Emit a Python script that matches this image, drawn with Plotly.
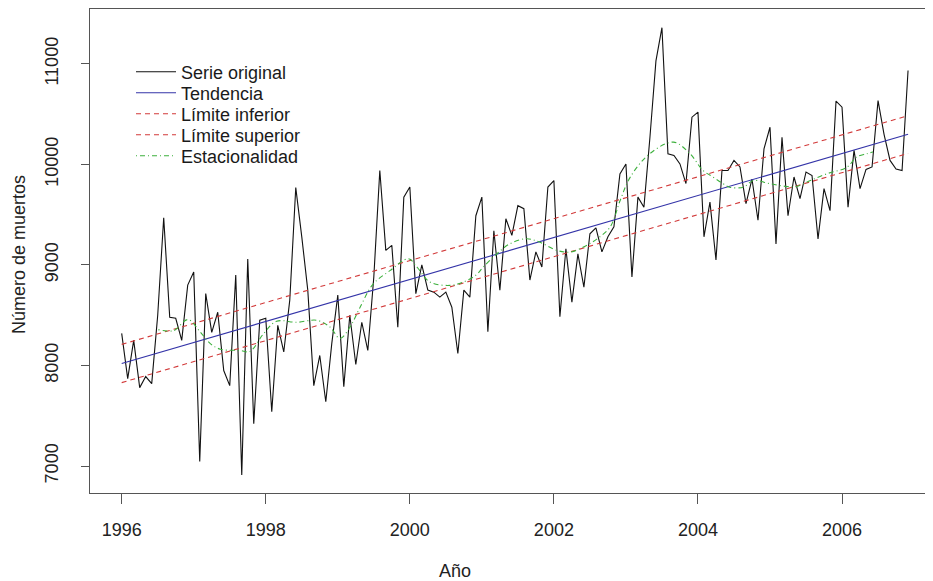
import plotly.graph_objects as go

# ---------------- data ----------------
start_year = 1996
serie_original = [
    8320, 7870, 8250, 7780, 7890, 7820, 8500, 9470, 8480, 8470, 8250, 8800,
    8930, 7045, 8715, 8330, 8530, 7950, 7800, 8900, 6910, 9060, 7420, 8450,
    8470, 7540, 8400, 8135, 8650, 9770, 9280, 8750, 7800, 8100, 7640, 8220,
    8700, 7790, 8500, 8010, 8430, 8150, 8880, 9940, 9145, 9195, 8380, 9675,
    9775, 8715, 9000, 8750, 8730, 8680, 8730, 8580, 8120, 8750, 8680, 9490,
    9675, 8335, 9340, 8750, 9460, 9295, 9590, 9560, 8850, 9130, 8980, 9775,
    9840, 8485, 9160, 8630, 9110, 8780, 9310, 9370, 9130, 9280, 9380, 9905,
    10005, 8880, 9675, 9575, 10270, 11030, 11360, 10105, 10090, 10005, 9810, 10470,
    10520, 9280, 9625, 9050, 9940, 9940, 10040, 9975, 9610, 9855, 9445, 10155,
    10370, 9210, 10270, 9490, 9875, 9660, 9925, 9890, 9260, 9760, 9540, 10630,
    10570, 9575, 10140, 9760, 9950, 9975, 10635, 10300, 10040, 9955, 9940, 10935,
]
fechas = [start_year + i / 12 for i in range(len(serie_original))]

# linear trend and limits (end points)
tendencia_x = [1996.0, 2006.917]
tendencia = [8020, 10300]
limite_inferior = [7830, 10110]
limite_superior = [8210, 10485]

# seasonality / smoothed component
estac_x = [
    1996.51, 1996.72, 1996.92, 1997.09, 1997.23, 1997.37, 1997.64, 1997.78,
    1997.97, 1998.15, 1998.43, 1998.71, 1998.89, 1999.03, 1999.17, 1999.31,
    1999.49, 1999.73, 1999.98, 2000.10, 2000.28, 2000.56, 2000.74, 2000.92,
    2001.02, 2001.21, 2001.39, 2001.62, 2001.80, 2002.04, 2002.22, 2002.41,
    2002.60, 2002.78, 2002.92, 2003.06, 2003.33, 2003.66, 2003.89, 2004.07,
    2004.21, 2004.35, 2004.44, 2004.63, 2004.77, 2005.00, 2005.23, 2005.37,
    2005.56, 2005.79, 2006.07, 2006.20, 2006.34, 2006.43,
]
estacionalidad = [
    8357, 8347, 8457, 8334, 8218, 8162, 8150, 8140,
    8317, 8440, 8430, 8450, 8384, 8270, 8384, 8580,
    8810, 8946, 9062, 8979, 8830, 8797, 8830, 8900,
    8979, 9112, 9211, 9261, 9228, 9145, 9128, 9178,
    9260, 9377, 9642, 9874, 10106, 10222, 10106, 9940,
    9874, 9808, 9774, 9774, 9840, 9808, 9781, 9781,
    9840, 9907, 9973, 10073, 10106, 10123,
]

x_ticks = [1996, 1998, 2000, 2002, 2004, 2006]
y_ticks = [7000, 8000, 9000, 10000, 11000]

# ---------------- figure ----------------
FONT = "Liberation Sans, Arial, sans-serif"
OFF = 8                      # page body margin of the html page
W, H = 933 - OFF, 581 - OFF  # visible figure size
# plot frame in screen pixels: left 90, top 8, bottom 493, right edge of window
L, T = 90 - OFF, 1
R = 0
B = H - (493 - OFF)
pw, ph = W - L - R, H - T - B


def px_x(sx):
    return (sx - OFF - L) / pw


def px_y(sy):
    return 1 - (sy - OFF - T) / ph


fig = go.Figure()
fig.add_trace(go.Scatter(x=fechas, y=serie_original, mode="lines", name="Serie original",
                         legend="legend",
                         line=dict(color="#111111", width=1.1)))
fig.add_trace(go.Scatter(x=tendencia_x, y=tendencia, mode="lines", name="Tendencia",
                         legend="legend2",
                         line=dict(color="#3434a8", width=1.1)))
fig.add_trace(go.Scatter(x=tendencia_x, y=limite_inferior, mode="lines", name="Límite inferior",
                         legend="legend3",
                         line=dict(color="#d23a3a", width=1.1, dash="5px,4px")))
fig.add_trace(go.Scatter(x=tendencia_x, y=limite_superior, mode="lines", name="Límite superior",
                         legend="legend4",
                         line=dict(color="#d23a3a", width=1.1, dash="5px,4px")))
fig.add_trace(go.Scatter(x=estac_x, y=estacionalidad, mode="lines", name="Estacionalidad",
                         legend="legend5",
                         line=dict(color="#3cb03c", width=1.1, dash="1px,3px,5px,3px", shape="spline")))

legend_rows_px = [72, 93, 114, 135, 156]
legend_x_px = 131


def legend_box(sy):
    return dict(x=px_x(legend_x_px), y=px_y(sy), xanchor="left", yanchor="middle",
                bgcolor="rgba(0,0,0,0)", borderwidth=0, itemwidth=40,
                font=dict(family=FONT, size=18, color="#1a1a1a"))


fig.update_layout(
    width=W, height=H,
    margin=dict(l=L, r=R, t=T, b=B, autoexpand=False),
    paper_bgcolor="white", plot_bgcolor="white",
    font=dict(family=FONT, size=18, color="#222222"),
    showlegend=True,
    legend=legend_box(legend_rows_px[0]),
    legend2=legend_box(legend_rows_px[1]),
    legend3=legend_box(legend_rows_px[2]),
    legend4=legend_box(legend_rows_px[3]),
    legend5=legend_box(legend_rows_px[4]),
    xaxis=dict(range=[1995.56, 2007.263], tickmode="array", tickvals=x_ticks,
               ticktext=[str(v) for v in x_ticks], automargin=False,
               showgrid=False, zeroline=False, showline=True, mirror=True,
               linecolor="#555555", linewidth=1.2,
               ticks="outside", ticklen=10, tickcolor="#555555", tickwidth=1,
               tickfont=dict(family=FONT, size=18, color="#222222"),
               ticklabelstandoff=10),
    yaxis=dict(range=[6732, 11546], tickmode="array", tickvals=y_ticks,
               ticktext=[str(v) for v in y_ticks], tickangle=-90, automargin=False,
               showgrid=False, zeroline=False, showline=True, mirror=False,
               linecolor="#555555", linewidth=1.2,
               ticks="outside", ticklen=8, tickcolor="#555555", tickwidth=1,
               tickfont=dict(family=FONT, size=18, color="#222222"),
               ticklabelstandoff=16),
    annotations=[
        dict(text="Año", xref="paper", yref="paper", x=px_x(455), y=px_y(571),
             xanchor="center", yanchor="middle", showarrow=False,
             font=dict(family=FONT, size=18, color="#222222")),
        dict(text="Número de muertos", xref="paper", yref="paper", x=px_x(19),
             y=px_y(255), xanchor="center", yanchor="middle", textangle=-90,
             showarrow=False, font=dict(family=FONT, size=18, color="#222222")),
    ],
)

fig.write_html("out.html")
